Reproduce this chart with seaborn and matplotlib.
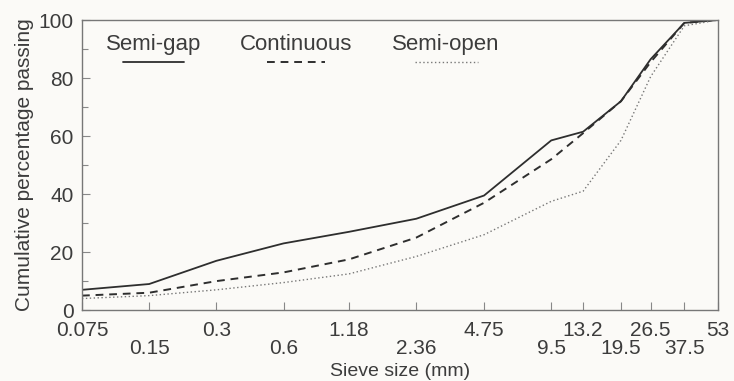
import numpy as np
import pandas as pd
import matplotlib
matplotlib.use("Agg")
import matplotlib.pyplot as plt
import seaborn as sns
from matplotlib.ticker import FixedLocator, FixedFormatter

# sieve sizes (mm) and cumulative % passing for each grading
sieves = [0.075, 0.15, 0.3, 0.6, 1.18, 2.36, 4.75, 9.5, 13.2, 19.5, 26.5, 37.5, 53]
semi_gap = [7, 9, 17, 23, 27, 31.5, 39.5, 58.5, 61.5, 72, 86.5, 99, 100]
continuous = [5, 6, 10, 13, 17.5, 25, 37, 52, 61, 72, 85.5, 99, 100]
semi_open = [4, 5, 7, 9.5, 12.5, 18.5, 26, 37.5, 41, 58.5, 80.5, 98, 100]
series_names = ["Semi-gap", "Continuous", "Semi-open"]

sns.set_theme(style="ticks")
plt.rcParams["font.family"] = ["Liberation Sans", "DejaVu Sans"]

df = pd.DataFrame({
    "sieve": sieves * 3,
    "passing": semi_gap + continuous + semi_open,
    "grading": np.repeat(series_names, len(sieves)),
})

TXT = "#3c3c3c"
LINE = "#2e2e2e"
BG = "#fbfaf7"

fig = plt.figure(figsize=(7.34, 3.81), dpi=100, facecolor=BG)
ax = fig.add_axes([0.1117, 0.186, 0.8663, 0.7615])
ax.set_facecolor(BG)

styles = {
    "Semi-gap": dict(ls="-", lw=1.3, color=LINE),
    "Continuous": dict(ls=(0, (4, 3)), lw=1.4, color=LINE),
    "Semi-open": dict(ls=(0, (1, 1.8)), lw=1.0, color="#777777"),
}
for name in series_names:
    sub = df[df["grading"] == name]
    sns.lineplot(data=sub, x="sieve", y="passing", ax=ax, legend=False,
                 **styles[name])

ax.set_xscale("log")
ax.set_xlim(sieves[0], sieves[-1])
ax.set_ylim(0, 100)

# alternating two-row tick labels: upper row on major, lower row on minor
upper = sieves[0::2]
lower = sieves[1::2]
ax.xaxis.set_major_locator(FixedLocator(upper))
ax.xaxis.set_major_formatter(FixedFormatter([f"{s:g}" for s in upper]))
ax.xaxis.set_minor_locator(FixedLocator(lower))
ax.xaxis.set_minor_formatter(FixedFormatter([f"{s:g}" for s in lower]))
ax.set_yticks(np.arange(0, 101, 20))
ax.set_yticks(np.arange(10, 100, 20), minor=True)

ax.tick_params(axis="both", which="both", direction="in", colors="#888888",
               labelcolor=TXT, labelsize=15, length=6, width=0.8)
ax.tick_params(axis="x", which="major", pad=8)
ax.tick_params(axis="x", which="minor", pad=20.5)
ax.tick_params(axis="y", which="major", pad=6)
ax.tick_params(axis="y", which="minor", length=4)
for sp in ax.spines.values():
    sp.set_color("#777777")
    sp.set_linewidth(1.0)

ax.set_xlabel("Sieve size (mm)", fontsize=14, color=TXT, labelpad=4)
ax.set_ylabel("Cumulative percentage passing", fontsize=15, color=TXT,
              labelpad=3)

# legend: label on top, line sample beneath
legend_text_x = {"Semi-gap": 0.038, "Continuous": 0.248, "Semi-open": 0.487}
legend_line_x = {"Semi-gap": (0.064, 0.16), "Continuous": (0.291, 0.382),
                 "Semi-open": (0.524, 0.623)}
for name in series_names:
    ax.text(legend_text_x[name], 0.914, name, transform=ax.transAxes,
            fontsize=16, color=TXT, ha="left", va="center")
    ax.plot(legend_line_x[name], [0.855, 0.855], transform=ax.transAxes,
            **styles[name])

fig.savefig("out.png", dpi=100, facecolor=BG)
